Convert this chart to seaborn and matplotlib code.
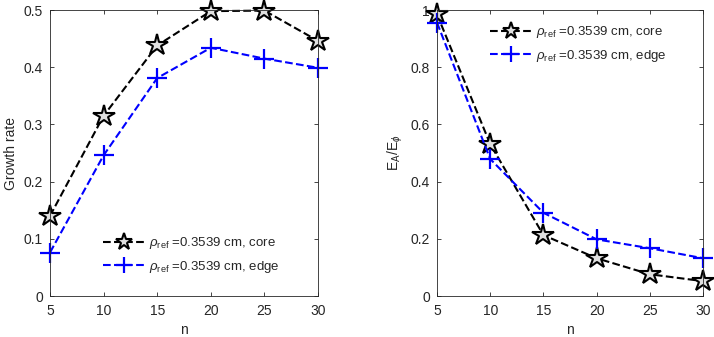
import numpy as np
import pandas as pd
import seaborn as sns
import matplotlib
matplotlib.use('Agg')
import matplotlib.pyplot as plt

# ===============================
# Dados
# ===============================
n = [5, 10, 15, 20, 25, 30]
growth_core = [0.140, 0.315, 0.438, 0.498, 0.499, 0.446]
growth_edge = [0.076, 0.246, 0.381, 0.434, 0.415, 0.399]
ratio_core = [0.985, 0.531, 0.213, 0.132, 0.076, 0.052]
ratio_edge = [0.956, 0.479, 0.291, 0.198, 0.167, 0.132]

label_core = r'$\rho_{\rm ref}$ =0.3539 cm, core'
label_edge = r'$\rho_{\rm ref}$ =0.3539 cm, edge'

sns.set_style("ticks")
plt.rcParams['font.family'] = ['Liberation Sans', 'DejaVu Sans']
plt.rcParams['mathtext.fontset'] = 'custom'
plt.rcParams['mathtext.rm'] = 'Liberation Sans'
plt.rcParams['mathtext.it'] = 'Liberation Sans:italic'
plt.rcParams['font.size'] = 10
plt.rcParams['text.color'] = '#262626'
plt.rcParams['axes.labelcolor'] = '#262626'
plt.rcParams['xtick.direction'] = 'in'
plt.rcParams['ytick.direction'] = 'in'
plt.rcParams['xtick.top'] = True
plt.rcParams['ytick.right'] = True

fig = plt.figure(figsize=(7.14, 3.37), dpi=100)
ax1 = fig.add_axes([50/714, 41/337, 268/714, 286/337])
ax2 = fig.add_axes([437/714, 41/337, 266/714, 286/337])

star_kw = dict(color='black', linestyle='--', marker='*', markersize=16,
               markerfacecolor='#e0e0e0', markeredgecolor='black',
               markeredgewidth=1.5, linewidth=1.5)
plus_kw = dict(color='blue', linestyle='--', marker='+', markersize=14,
               markeredgecolor='blue', markeredgewidth=1.6, linewidth=1.5)

# painel esquerdo - taxa de crescimento
sns.lineplot(x=n, y=growth_core, ax=ax1, label=label_core, **star_kw)
sns.lineplot(x=n, y=growth_edge, ax=ax1, label=label_edge, **plus_kw)
ax1.set_xlim(5, 30)
ax1.set_ylim(0, 0.5)
ax1.set_yticks([0, 0.1, 0.2, 0.3, 0.4, 0.5])
ax1.set_yticklabels(['0', '0.1', '0.2', '0.3', '0.4', '0.5'])
ax1.set_xlabel('n')
ax1.set_ylabel('Growth rate')

# painel direito - razão E_A/E_phi
sns.lineplot(x=n, y=ratio_core, ax=ax2, label=label_core, **star_kw)
sns.lineplot(x=n, y=ratio_edge, ax=ax2, label=label_edge, **plus_kw)
ax2.set_xlim(5, 30)
ax2.set_ylim(0, 1)
ax2.set_yticks([0, 0.2, 0.4, 0.6, 0.8, 1])
ax2.set_yticklabels(['0', '0.2', '0.4', '0.6', '0.8', '1'])
ax2.set_xlabel('n')
ax2.set_ylabel(r'E$_{\rm A}$/E$_\phi$')

for ax in (ax1, ax2):
    ax.set_xticks(n)
    for s in ax.spines.values():
        s.set_linewidth(0.6)
        s.set_color('#262626')
    ax.tick_params(axis='x', length=3, width=0.6, colors='#262626', pad=6)
    ax.tick_params(axis='y', length=3, width=0.6, colors='#262626', pad=5)
    ax.xaxis.labelpad = 3
    ax.yaxis.labelpad = 4
    for line in ax.lines:
        line.set_clip_on(False)

leg_kw = dict(frameon=False, handlelength=3.2, fontsize=9.5, markerscale=0.8,
              handletextpad=0.3, labelspacing=0.55, borderpad=0, borderaxespad=0)
ax1.legend(loc='lower left', bbox_to_anchor=(0.198, 0.075), **leg_kw)
ax2.legend(loc='upper left', bbox_to_anchor=(0.199, 0.95), **leg_kw)

fig.savefig('out.png', dpi=100)
